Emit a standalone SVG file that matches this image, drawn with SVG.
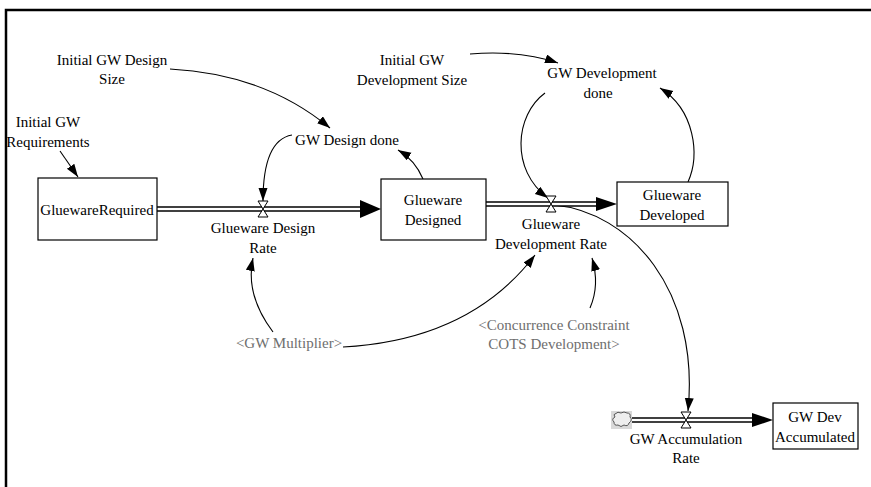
<svg xmlns="http://www.w3.org/2000/svg" width="871" height="487" viewBox="0 0 871 487" font-family="'Liberation Serif', 'DejaVu Serif', serif">
<style>
text{font-family:'Liberation Serif','DejaVu Serif',serif;font-size:15px;fill:#000;text-anchor:middle}
text.sh{fill:#6e6e6e}
.box{fill:#fff;stroke:#000;stroke-width:1.2}
.link{fill:none;stroke:#000;stroke-width:1.1;marker-end:url(#ah)}
.pipeo{stroke:#000;stroke-width:5.5;fill:none}
.pipei{stroke:#fff;stroke-width:2.6;fill:none}
.valve{fill:#fff;stroke:#000;stroke-width:1}
</style>
<defs>
<marker id="ah" markerUnits="userSpaceOnUse" markerWidth="14" markerHeight="10" refX="13" refY="4.5" orient="auto">
<path d="M0,0 L13,4.5 L0,9 z" fill="#000"/>
</marker>
</defs>
<polyline points="6,487 6,10 871,10" fill="none" stroke="#000" stroke-width="2.5"/>

<g id="connectors">
<path class="link" d="M170,69 Q265,74 330,128"/>
<path class="link" d="M60,151 L78,177"/>
<path class="link" d="M292,135 Q263,140 263,201"/>
<path class="link" d="M423,179 Q415,160 398,150"/>
<path class="link" d="M470,54 Q520,50 558,63"/>
<path class="link" d="M545,93 C515,115 510,170 548,198"/>
<path class="link" d="M688,182 C700,155 695,110 660,88"/>
<path class="link" d="M554,205 C630,212 700,290 688,411"/>
<path class="link" d="M273,332 Q245,295 253,258"/>
<path class="link" d="M343,347 Q470,340 535,255"/>
<path class="link" d="M590,308 Q600,285 592,258"/>
</g>

<g id="flow-design">
<line class="pipeo" x1="157" y1="209" x2="364" y2="209"/>
<line class="pipei" x1="156" y1="209" x2="366" y2="209"/>
<polygon points="360,200 381,209 360,218" fill="#000"/>
</g>
<g id="flow-development">
<line class="pipeo" x1="486" y1="204" x2="599" y2="204"/>
<line class="pipei" x1="485" y1="204" x2="600" y2="204"/>
<polygon points="596,197 617,204 596,211" fill="#000"/>
</g>
<g id="flow-accumulation">
<line class="pipeo" x1="630" y1="420" x2="755" y2="420"/>
<line class="pipei" x1="630" y1="420" x2="756" y2="420"/>
<polygon points="752,413 773,420 752,427" fill="#000"/>
</g>

<g id="GluewareRequired">
<rect class="box" x="38" y="178" width="119" height="62"/>
<text x="97" y="215">GluewareRequired</text>
</g>
<g id="GluewareDesigned">
<rect class="box" x="381" y="179" width="105" height="61"/>
<text x="433" y="205">Glueware</text>
<text x="433" y="225">Designed</text>
</g>
<g id="GluewareDeveloped">
<rect class="box" x="617" y="182" width="111" height="44"/>
<text x="672" y="200">Glueware</text>
<text x="672" y="220">Developed</text>
</g>
<g id="GWDevAccumulated">
<rect class="box" x="773" y="403" width="85" height="46"/>
<text x="815" y="422">GW Dev</text>
<text x="815" y="442">Accumulated</text>
</g>

<g id="GluewareDesignRate">
<polygon class="valve" points="258,201 268,201 258,217 268,217"/>
<text x="263" y="233">Glueware Design</text>
<text x="263" y="253">Rate</text>
</g>
<g id="GluewareDevelopmentRate">
<polygon class="valve" points="546,196 556,196 546,212 556,212"/>
<text x="551" y="229">Glueware</text>
<text x="551" y="249">Development Rate</text>
</g>
<g id="GWAccumulationRate">
<polygon class="valve" points="681,412 691,412 681,428 691,428"/>
<text x="686" y="444">GW Accumulation</text>
<text x="686" y="463">Rate</text>
</g>
<g id="cloud">
<rect x="611" y="411" width="21" height="18" fill="#d9d9d9"/>
<path d="M615,414 q3,-3 6,-1 q3,-2 6,0 q4,0 3,4 q3,3 -1,6 q-1,4 -5,2 q-3,3 -6,0 q-4,1 -4,-3 q-3,-3 1,-5 q-2,-3 0,-3 z" fill="#eee" stroke="#555" stroke-width="1"/>
</g>

<g id="InitialGWDesignSize">
<text x="112" y="65">Initial GW Design</text>
<text x="112" y="84">Size</text>
</g>
<g id="InitialGWRequirements">
<text x="48" y="127">Initial GW</text>
<text x="48" y="147">Requirements</text>
</g>
<g id="GWDesignDone">
<text x="347" y="145">GW Design done</text>
</g>
<g id="InitialGWDevelopmentSize">
<text x="412" y="65">Initial GW</text>
<text x="412" y="85">Development Size</text>
</g>
<g id="GWDevelopmentDone">
<text x="602" y="78">GW Development</text>
<text x="598" y="98">done</text>
</g>
<g id="GWMultiplier">
<text class="sh" x="289" y="348">&lt;GW Multiplier&gt;</text>
</g>
<g id="ConcurrenceConstraint">
<text class="sh" x="554" y="330">&lt;Concurrence Constraint</text>
<text class="sh" x="554" y="349">COTS Development&gt;</text>
</g>
</svg>
